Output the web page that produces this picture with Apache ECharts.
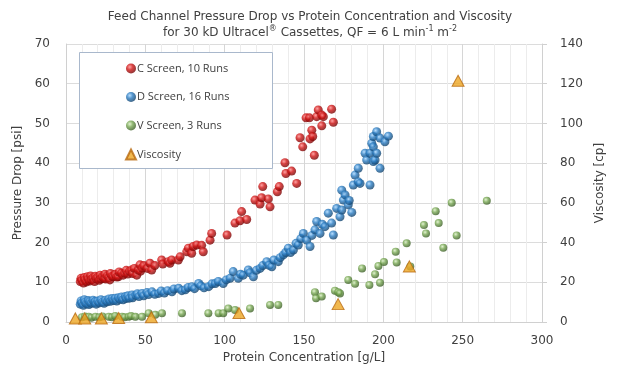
<!DOCTYPE html>
<html><head><meta charset="utf-8">
<script src="https://cdn.jsdelivr.net/npm/echarts@6/dist/echarts.min.js"></script>
<style>html,body{margin:0;padding:0;background:#fff}#c{width:620px;height:372px}</style>
</head><body><div id="c"></div>
<script>
const seriesNames = ['C Screen, 10 Runs', 'D Screen, 16 Runs', 'V Screen, 3 Runs', 'Viscosity'];
const xTicks = [0, 50, 100, 150, 200, 250, 300];
const yLeftTicks = [0, 10, 20, 30, 40, 50, 60, 70];
const yRightTicks = [0, 20, 40, 60, 80, 100, 120, 140];

const cScreen = [[9,10.2],[9.5,11],[10,10.5],[11,9.8],[11.5,11.2],[12,10.6],[13,10.1],[13.5,11.4],[14,10.8],[15,10.3],[15.5,11.6],[16,10.7],[17,11.1],[18,10.2],[18.5,11.5],[19,10.9],[20,11.3],[21,10.5],[21.5,11.8],[22,10.9],[23,11.4],[24,11],[24.5,12],[25,10.8],[26,11.6],[27,11.2],[27.7,10.6],[28,12.2],[29,11.5],[29.8,11.4],[31,12],[32,11.3],[33,11.4],[33.5,12.6],[35,12.3],[36,11.8],[37,12.3],[38,13],[39,12.1],[40,12.8],[41.4,13.1],[42,12.2],[43,13.5],[44.6,11.8],[45.6,13.1],[46.6,14.4],[47,12.8],[48,13.6],[49,14.2],[51.3,13.5],[52.9,14.8],[54,13.1],[56,14.2],[60.3,15.6],[61,14.6],[64.5,15.2],[65.5,14.8],[66.6,15.6],[70.8,15.6],[71.9,16.4],[76.1,17.7],[77.1,18.6],[79.2,17.3],[80.2,19],[82.4,19.4],[85.5,19.3],[86.5,17.7],[90.8,20.6],[91.8,22.3],[101.5,21.9],[106.5,24.9],[109.7,25.5],[110.7,27.8],[113.9,25.8],[119.1,30.7],[122.3,29.7],[123.3,31.3],[124,34.1],[127.5,31],[128.6,29],[133.2,32.8],[134.4,34.1],[138,40.1],[138.6,37.4],[142.2,38],[145.4,34.9],[147.5,46.4],[149.2,44.1],[151.3,51.4],[153.4,51.4],[153.8,46.1],[154.9,48.3],[155.5,46.7],[156.5,42],[158,51.7],[159,53.4],[161.2,52.1],[161.2,49.4],[162.2,51.7],[167.4,53.6],[168.5,50.3]];

const dScreen = [[9,4.5],[9.5,5.3],[10,4.8],[11,4.2],[11.5,5.6],[12,5],[13,4.6],[14,5.4],[14.5,4.4],[15,5.1],[16,4.7],[17,5.5],[18,4.9],[18.5,5.2],[19,4.5],[20,5.3],[21,4.8],[22,5.6],[23,5],[24,4.7],[24.8,5.5],[26,5.1],[27,5.8],[28,5.2],[29,5.9],[30,5.4],[31.1,6],[32,5.3],[33,6.1],[34,5.7],[35,6.3],[36,5.6],[37.4,6.4],[38,5.9],[39,6.6],[40,6],[41.6,6.8],[42,6.1],[44,6.7],[45,7.1],[46,6.4],[47.9,7.2],[49,6.6],[51,7.4],[52,6.9],[54.2,7.6],[56,7],[58.4,7.2],[60,7.8],[62,7.3],[64,7.9],[66.8,7.6],[68,8.3],[71,8.5],[73,7.9],[75.2,8.1],[77,8.7],[79.4,8.9],[81,8.4],[83.6,9.7],[85,9.1],[87,8.6],[89.9,8.9],[92,9.6],[94.1,9.7],[96,10.2],[99.1,9.7],[101,10.6],[103.4,11],[105.4,12.7],[108.6,11],[110,12],[111.7,11.8],[114.9,13.1],[116,12.4],[118.1,11.4],[120,13],[122.3,13.5],[124,14.2],[126.5,15.2],[128,14.3],[129.7,13.9],[131,15.6],[133.8,15.2],[135,16.2],[137,16.9],[138.5,17.5],[140.1,18.6],[141.5,17.5],[143.3,18.1],[145,19.8],[146.4,19.4],[148,21],[149.6,22.3],[151.7,20.6],[153.8,19],[155,21.8],[156.9,23.2],[158,25.3],[160.1,22.3],[161.5,24.6],[163.2,24],[165.3,27.4],[167.4,24.9],[168.5,21.9],[170.6,28.6],[172.7,26.5],[173.8,28.2],[173.8,33.2],[174.8,30.7],[175.9,32],[177.9,29.5],[178.5,30.6],[180.1,27.6],[181.1,34.5],[182.2,37],[184.2,38.7],[184.2,35.3],[185.3,34.9],[188.5,42.5],[189.5,40.8],[191.6,42.5],[191.6,34.5],[192.7,45],[193.7,46.7],[193.7,44.1],[193.7,40.4],[194.8,40.8],[195.8,47.9],[195.8,42.5],[197.9,46.3],[197.9,38.7],[201,45.4],[203.2,46.8]];

const vScreen = [[10,1.2],[12,1.4],[14.3,1.3],[16,1.1],[18.5,1.3],[21,1.2],[23,1.4],[26.9,1.3],[29,1.2],[31,1.5],[35.3,1.3],[37,1.2],[39.5,1.3],[41,1.5],[43.7,1.3],[47.9,1.3],[52.1,2.2],[56.3,1.8],[60.5,2.2],[73.1,2.2],[89.7,2.2],[96.2,2.2],[99.1,2.2],[102.3,3.4],[106.5,3],[116,3.4],[128.6,4.3],[133.8,4.3],[156.9,7.5],[157.6,6],[161.2,6.4],[169.5,7.9],[171.6,7.5],[172.7,7.2],[177.9,10.6],[182.2,9.6],[186.6,13.5],[191.2,9.3],[194.8,12],[196.9,14.1],[197.9,9.9],[200.4,15.1],[208.4,15],[207.8,17.7],[214.7,19.8],[217,14],[225.6,24.4],[226.9,22.3],[233,27.9],[234.9,24.9],[237.8,18.7],[243.1,30],[246.2,21.8],[265.2,30.5]];

const viscosity = [[5.9,1.8],[11.8,1.8],[22.3,1.8],[33.2,2],[53.8,2.4],[109,4.5],[171.5,9],[216.4,28],[247.1,121.5]];

function sphere(light, mid, dark) {
  return {type:'radial', x:0.38, y:0.35, r:0.65,
    colorStops:[{offset:0,color:light},{offset:0.45,color:mid},{offset:1,color:dark}]};
}
const FONT = 'DejaVu Sans';
const chart = echarts.init(document.getElementById('c'), null, {renderer:'canvas'});
chart.setOption({
  animation:false,
  backgroundColor:'#fff',
  title:{
    left:'center', top:4,
    text:'{a|Feed Channel Pressure Drop vs Protein Concentration and Viscosity}\n{a|for 30 kD Ultracel}{s|®}{a| Cassettes, QF = 6 L min}{s|-1}{a| m}{s|-2}',
    textStyle:{fontWeight:'normal', rich:{
      a:{fontFamily:FONT, fontSize:12, fontWeight:'normal', color:'#404040', lineHeight:16},
      s:{fontFamily:FONT, fontSize:8, fontWeight:'normal', color:'#404040', lineHeight:9, verticalAlign:'top'}
    }}
  },
  grid:{left:66, right:78, top:44, bottom:50},
  graphic:[{type:'rect', z:3, shape:{x:79.5, y:52.5, width:193, height:116},
    style:{fill:'#fff', stroke:'#a9b8cc', lineWidth:1}}],
  legend:{
    z:5, orient:'vertical', left:120, top:58, itemGap:17.5, itemWidth:10, itemHeight:10,
    data:seriesNames,
    textStyle:{fontFamily:'Open Sans', fontSize:11, color:'#404040', padding:[0,0,0,-4]}
  },
  xAxis:{
    type:'value', min:xTicks[0], max:xTicks[xTicks.length-1], interval:50,
    name:'Protein Concentration [g/L]', nameLocation:'middle', nameGap:28,
    nameTextStyle:{fontFamily:FONT, fontSize:12, color:'#404040'},
    axisLine:{show:true, lineStyle:{color:'#d0d0d0'}},
    axisTick:{show:false},
    axisLabel:{fontFamily:FONT, fontSize:12, color:'#404040', margin:13},
    splitLine:{show:true, lineStyle:{color:'#d6d6d6'}},
    minorTick:{show:false, splitNumber:5},
    minorSplitLine:{show:true, lineStyle:{color:'#ececec'}}
  },
  yAxis:[{
    type:'value', min:yLeftTicks[0], max:yLeftTicks[yLeftTicks.length-1], interval:10,
    name:'Pressure Drop [psi]', nameLocation:'middle', nameGap:40,
    nameTextStyle:{fontFamily:FONT, fontSize:12, color:'#404040'},
    axisLine:{show:true, lineStyle:{color:'#d0d0d0'}},
    axisTick:{show:false},
    axisLabel:{fontFamily:FONT, fontSize:12, color:'#404040', margin:16},
    splitLine:{show:true, lineStyle:{color:'#dcdcdc'}}
  },{
    type:'value', position:'right', min:yRightTicks[0], max:yRightTicks[yRightTicks.length-1], interval:20,
    name:'Viscosity [cp]', nameLocation:'middle', nameGap:52, nameRotate:90,
    nameTextStyle:{fontFamily:FONT, fontSize:12, color:'#404040'},
    axisLine:{show:true, lineStyle:{color:'#d0d0d0'}},
    axisTick:{show:true, length:5, lineStyle:{color:'#d0d0d0'}},
    axisLabel:{fontFamily:FONT, fontSize:12, color:'#404040', margin:18},
    splitLine:{show:false}
  }],
  series:[
    {name:seriesNames[0], type:'scatter', data:cScreen, symbol:'circle', symbolSize:9,
      itemStyle:{color:sphere('#ff8c8c','#d01515','#780404')}},
    {name:seriesNames[1], type:'scatter', data:dScreen, symbol:'circle', symbolSize:9,
      itemStyle:{color:sphere('#a6d6ff','#2a7cc2','#13446e')}},
    {name:seriesNames[2], type:'scatter', data:vScreen, symbol:'circle', symbolSize:8,
      itemStyle:{color:sphere('#dcf0c6','#78a853','#3d6027')}},
    {name:seriesNames[3], type:'scatter', yAxisIndex:1, data:viscosity, symbol:'triangle', symbolSize:[12,11], z:4,
      itemStyle:{color:'#eea623', borderColor:'#b8690f', borderWidth:1}}
  ]
});
</script></body></html>
